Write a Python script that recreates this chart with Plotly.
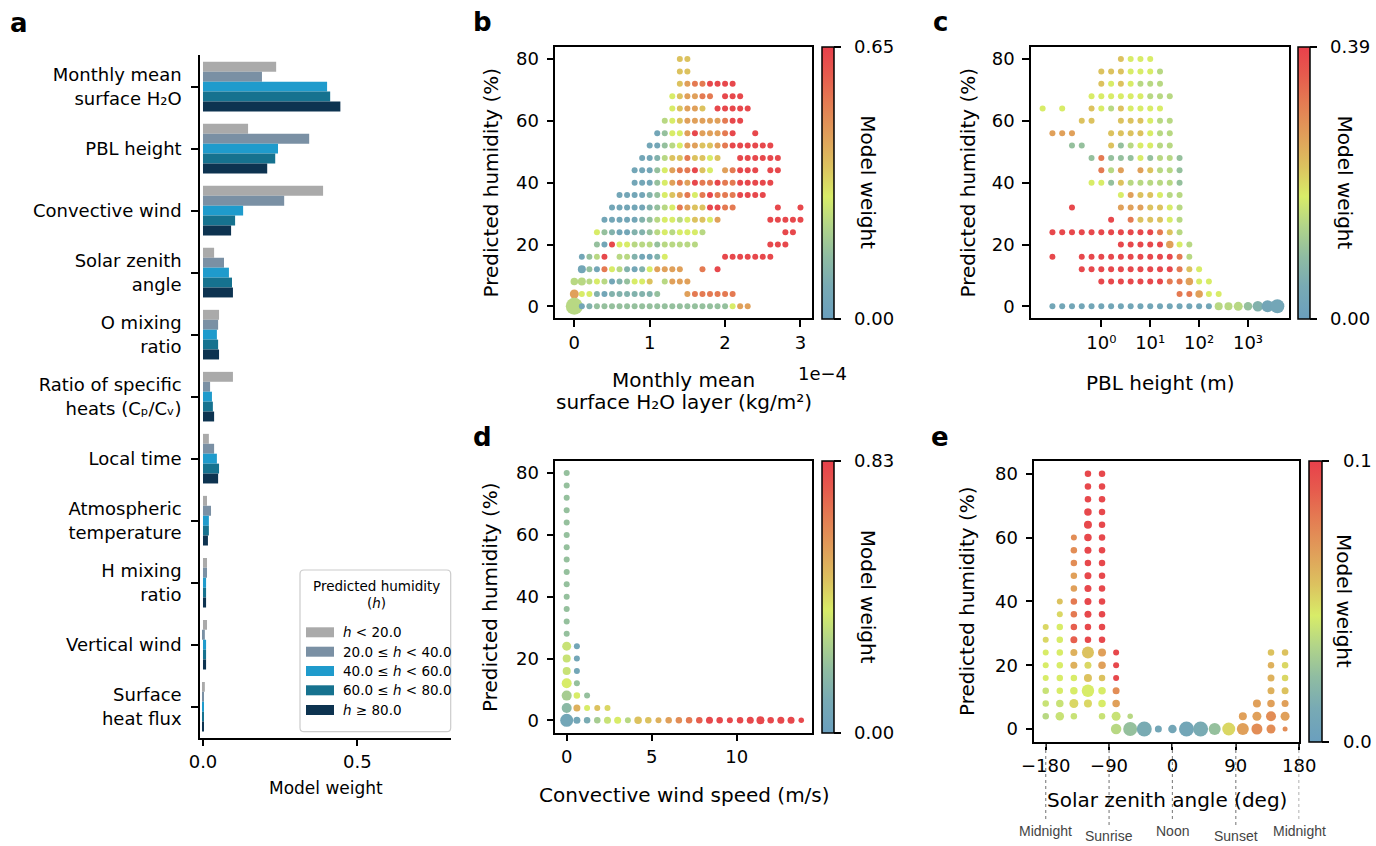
import plotly.graph_objects as go

W, H = 1376, 846
FONT = "DejaVu Sans"

# ---------------- Panel a: model weight per feature and humidity bin ----------------
features = ["Monthly mean<br>surface H₂O", "PBL height", "Convective wind", "Solar zenith<br>angle",
            "O mixing<br>ratio", "Ratio of specific<br>heats (Cₚ/Cᵥ)", "Local time",
            "Atmospheric<br>temperature", "H mixing<br>ratio", "Vertical wind", "Surface<br>heat flux"]
bin_labels = ["<i>h</i> &lt; 20.0", "20.0 ≤ <i>h</i> &lt; 40.0", "40.0 ≤ <i>h</i> &lt; 60.0",
              "60.0 ≤ <i>h</i> &lt; 80.0", "<i>h</i> ≥ 80.0"]
bin_colors = ["#aaaaaa", "#7a90a4", "#1f9bcc", "#16728f", "#0d3350"]
w_lt20 = [0.237, 0.146, 0.389, 0.036, 0.052, 0.097, 0.019, 0.013, 0.013, 0.013, 0.006]
w_20_40 = [0.191, 0.344, 0.263, 0.068, 0.049, 0.023, 0.036, 0.026, 0.013, 0.006, 0.003]
w_40_60 = [0.402, 0.243, 0.130, 0.084, 0.045, 0.029, 0.045, 0.019, 0.010, 0.010, 0.003]
w_60_80 = [0.412, 0.234, 0.104, 0.094, 0.049, 0.032, 0.052, 0.019, 0.010, 0.010, 0.002]
w_ge80 = [0.445, 0.208, 0.091, 0.097, 0.052, 0.036, 0.049, 0.016, 0.010, 0.010, 0.002]
bin_weights = [w_lt20, w_20_40, w_40_60, w_60_80, w_ge80]

# weight level codes ('1' low ... '9' high) -> fraction of colour-bar maximum
LEVEL_FRAC = [0.0, 0.08, 0.17, 0.25, 0.36, 0.45, 0.56, 0.67, 0.80, 0.97]

# ---------------- Panel b: monthly mean surface H2O ----------------
# (humidity %, first bin index, codes); bin index i -> x = i * 0.1e-4 kg/m2 ; '.' = no point
b_x_step = 0.1e-4
b_segments = [
    (80, 14, "66"),
    (76, 14, "66"),
    (72, 14, "67889999"),
    (68, 13, "567788.999"),
    (64, 13, "56776.99999"),
    (60, 12, "45677777899"),
    (56, 11, "13557977789..9"),
    (52, 10, "11345776678999999"),
    (48, 9, "11246686656..999999"),
    (44, 8, "11135788965.78999.99"),
    (40, 8, "1113578798898899999"),
    (36, 6, "11112356785898889999"),
    (32, 5, "11111234587669988.....9..9"),
    (28, 4, "1111123455456657......99999"),
    (24, 3, "532112234545554..........99"),
    (20, 3, "31955444344444.........999"),
    (16, 1, "1349.4421125.......9999999"),
    (12, 1, "13185421257777..8.9"),
    (8, 0, "44454123556.4777"),
    (4, 0, "755212222223...7888888"),
    (0, 0, "412333333333333333333577"),
]
b_sizes = {(0, 0): 17, (4, 0): 9, (8, 0): 7.5, (8, 1): 8, (12, 1): 8, (24, 2): 7}
b_vmax = 0.65

# ---------------- Panel c: PBL height (log bins) ----------------
# bin index i -> PBL height = 10 ** (-1.2 + 0.2 * i)
c_log_start, c_log_step = -1.2, 0.2
c_segments = [
    (80, 8, "6555"),
    (76, 6, "6665554"),
    (72, 6, "6565444"),
    (68, 5, "555555444"),
    (64, 0, "5.5..65465555"),
    (60, 4, "66..666544"),
    (56, 1, "777...6666544"),
    (52, 3, "33..6345544"),
    (48, 5, "3833353443"),
    (44, 6, "847.76443"),
    (40, 5, "5536444443"),
    (36, 8, "5766544"),
    (32, 3, "9....7776654"),
    (28, 7, "9.866654"),
    (24, 1, "99999999999864"),
    (20, 8, "99999754"),
    (16, 1, "9..999999999984"),
    (12, 4, "9999999999865"),
    (8, 6, "999999988755"),
    (4, 14, "88755"),
    (0, 1, "111111111111111114443211"),
]
c_sizes = {(0, 18): 8, (0, 19): 8, (0, 20): 9, (0, 21): 8.5, (0, 22): 10.5, (0, 23): 12, (0, 24): 14,
           (20, 13): 7.5, (8, 15): 7.5, (4, 16): 7.5}
c_vmax = 0.39

# ---------------- Panel d: convective wind speed ----------------
# (wind m/s, humidity %, weight level, marker size)
d_points = [
    (0, 80, 3, 6), (0, 76, 3, 6), (0, 72, 3, 6), (0, 68, 3, 6), (0, 64, 3, 6), (0, 60, 3, 6),
    (0, 56, 3, 6), (0, 52, 3, 6), (0, 48, 3, 6), (0, 44, 3, 6), (0, 40, 3, 6), (0, 36, 3, 6),
    (0, 32, 3, 6), (0, 28, 3, 6), (0, 24, 4.5, 9), (0, 20, 4.5, 8), (0, 16, 4.5, 8),
    (0, 12, 5, 10), (0, 8, 3.5, 10), (0, 4, 2.5, 10), (0, 0, 1, 13),
    (0.6, 24, 1, 6), (0.6, 20, 1, 6), (0.6, 16, 1, 6), (0.6, 12, 3, 6), (0.6, 8, 5, 6.5),
    (0.6, 4, 6.5, 7), (0.6, 0, 1, 7),
    (1.2, 8, 3, 6), (1.2, 4, 5, 6), (1.2, 0, 1.5, 6.5),
    (1.8, 4, 6, 6), (1.8, 0, 3.5, 6.5),
    (2.4, 4, 5.5, 6), (2.4, 0, 4.5, 7),
    (3.0, 0, 5, 7), (3.6, 0, 4, 6), (4.2, 0, 6, 7.5), (4.8, 0, 6, 6.5), (5.4, 0, 6.5, 6),
    (6.0, 0, 7, 6.5), (6.6, 0, 7.5, 6.5), (7.2, 0, 8, 6.5), (7.8, 0, 8.5, 6.5), (8.4, 0, 9, 7),
    (9.0, 0, 9, 6.5), (9.6, 0, 9, 6), (10.2, 0, 9, 6.5), (10.8, 0, 9, 7), (11.4, 0, 9, 8),
    (12.0, 0, 9, 6.5), (12.6, 0, 9, 7), (13.2, 0, 9, 7), (13.8, 0, 9, 5.5),
]
d_vmax = 0.83

# ---------------- Panel e: solar zenith angle ----------------
# (angle deg, humidity %, weight level, marker size)
e_points = [
    (-180, 32, 5.5, 6), (-180, 28, 5.5, 6), (-180, 24, 5, 6), (-180, 20, 5, 6), (-180, 16, 5, 6),
    (-180, 12, 4.5, 6.5), (-180, 8, 4.5, 6.5), (-180, 4, 4, 6.5),
    (-160, 40, 6, 6), (-160, 36, 5.5, 6), (-160, 32, 5, 6.5), (-160, 28, 5, 6.5), (-160, 24, 5, 6.5),
    (-160, 20, 5, 6.5), (-160, 16, 5, 6.5), (-160, 12, 5, 6.5), (-160, 8, 4.5, 7.5), (-160, 4, 4.5, 8.5),
    (-140, 60, 7.5, 6), (-140, 56, 7.5, 6.5), (-140, 52, 7.5, 6.5), (-140, 48, 7, 6.5), (-140, 44, 7, 6.5),
    (-140, 40, 8, 6.5), (-140, 36, 8, 6.5), (-140, 32, 8.5, 6.5), (-140, 28, 8.5, 7), (-140, 24, 6.5, 7),
    (-140, 20, 6.5, 7), (-140, 16, 5, 6.5), (-140, 12, 5, 7.5), (-140, 8, 5.5, 9), (-140, 4, 4.5, 6.5),
    (-120, 80, 9, 6.5), (-120, 76, 9, 6.5), (-120, 72, 9, 6.5), (-120, 68, 9, 7.5), (-120, 64, 9, 8),
    (-120, 60, 9, 7.5), (-120, 56, 9, 7), (-120, 52, 9, 6.5), (-120, 48, 9, 7), (-120, 44, 9, 7),
    (-120, 40, 9, 7), (-120, 36, 9, 7), (-120, 32, 9, 6.5), (-120, 28, 9, 6.5), (-120, 24, 6, 12),
    (-120, 20, 5.5, 7), (-120, 16, 6, 8), (-120, 12, 5, 12.5), (-120, 8, 5.5, 8),
    (-100, 80, 9, 6.5), (-100, 76, 9, 6.5), (-100, 72, 9, 6.5), (-100, 68, 9, 6.5), (-100, 64, 9, 6.5),
    (-100, 60, 9, 6.5), (-100, 56, 9, 6.5), (-100, 52, 9, 6.5), (-100, 48, 9, 6.5), (-100, 44, 9, 6.5),
    (-100, 40, 9, 6.5), (-100, 36, 9, 6.5), (-100, 32, 9, 6.5), (-100, 28, 9, 6.5), (-100, 24, 7, 8),
    (-100, 20, 7, 7.5), (-100, 16, 6, 6.5), (-100, 12, 5, 7.5), (-100, 8, 5, 7.5), (-100, 4, 4.5, 6.5),
    (-80, 24, 9, 6), (-80, 20, 9, 6), (-80, 16, 9, 6), (-80, 12, 7.5, 7), (-80, 8, 7, 7.5),
    (-80, 4, 4.5, 9), (-80, 0, 4, 10.5),
    (-60, 4, 4, 5.5), (-60, 0, 3, 14),
    (-40, 0, 1.5, 15), (-20, 0, 1, 7), (0, 0, 1, 8.5), (20, 0, 1, 15), (40, 0, 1.5, 15),
    (60, 0, 3, 12), (80, 0, 5.5, 13),
    (100, 4, 7, 8), (100, 0, 7, 12),
    (120, 8, 7, 8), (120, 4, 7, 9), (120, 0, 7.5, 11),
    (140, 24, 6, 6.5), (140, 20, 6.5, 6.5), (140, 16, 6.5, 7), (140, 12, 6.5, 7), (140, 8, 7, 7.5),
    (140, 4, 7.5, 10), (140, 0, 7.5, 9),
    (160, 24, 6, 6.5), (160, 20, 5.5, 6.5), (160, 16, 5.5, 6.5), (160, 12, 6, 7), (160, 8, 7, 7),
    (160, 4, 7, 9), (160, 0, 7.5, 5),
]
e_vmax = 0.1
e_day_marks = [(-180, "Midnight", 0), (-90, "Sunrise", 1), (0, "Noon", 0), (90, "Sunset", 1), (180, "Midnight", 0)]

# colour-bar tick labels (bottom, top)
cbar_labels = {"b": ["0.00", "0.65"], "c": ["0.00", "0.39"], "d": ["0.00", "0.83"], "e": ["0.0", "0.1"]}

CSCALE = [[0.0, "#6a9fbe"], [0.12, "#78aab4"], [0.23, "#8fbca2"], [0.34, "#b1d489"],
          [0.45, "#d8ec68"], [0.56, "#dcc25f"], [0.67, "#e0a05a"], [0.80, "#e47a52"],
          [0.90, "#e65a4d"], [1.0, "#e8404b"]]


# ---------------- helpers ----------------
def fx(px):
    return px / W


def fy(py):
    return 1 - py / H


def level_frac(lv):
    lo = int(lv)
    hi = min(lo + 1, 9)
    t = lv - lo
    return LEVEL_FRAC[lo] * (1 - t) + LEVEL_FRAC[hi] * t


def decode(segments, sizes):
    idx, hum, lev, sz = [], [], [], []
    for h, start, codes in segments:
        for k, ch in enumerate(codes):
            if ch == ".":
                continue
            i = start + k
            idx.append(i)
            hum.append(h)
            lev.append(int(ch))
            sz.append(sizes.get((h, i), 6))
    return idx, hum, lev, sz


annotations = []
shapes = []


def ann(text, x, y, size, angle=0, xanchor="center", yanchor="middle", color="black", family=FONT):
    annotations.append(dict(text=text, x=fx(x), y=fy(y), xref="paper", yref="paper", showarrow=False,
                            xanchor=xanchor, yanchor=yanchor, textangle=angle,
                            font=dict(family=family, size=size, color=color)))


def cbar(x0, x1, y0, y1, vmax, labels, label_gap=19):
    # tick labels drawn as annotations for matplotlib-like spacing
    ann(labels[1], x1 + label_gap, y0, 18, xanchor="left")
    ann(labels[0], x1 + label_gap, y1, 18, xanchor="left")
    return dict(x=fx(x0), xanchor="left", y=fy((y0 + y1) / 2), yanchor="middle",
                len=(y1 - y0) / H, lenmode="fraction", thickness=x1 - x0, thicknessmode="pixels",
                xpad=0, ypad=0, outlinewidth=1.5, outlinecolor="black",
                tickmode="array", tickvals=[0, vmax], ticks="outside", showticklabels=False,
                ticklen=7, tickwidth=1.5, tickcolor="black")


def scatter(x, y, levels, sizes, vmax, xa, ya, cb):
    w = [level_frac(l) * vmax for l in levels]
    return go.Scatter(x=x, y=y, mode="markers", xaxis=xa, yaxis=ya, showlegend=False,
                      hoverinfo="skip",
                      marker=dict(color=w, cmin=0, cmax=vmax, colorscale=CSCALE, size=sizes,
                                  line=dict(width=0), opacity=1, colorbar=cb, showscale=True))


def box_axis(x0, x1, rng, **kw):
    d = dict(domain=[x0, x1], range=rng, showline=True, linecolor="black", linewidth=1.5,
             mirror=True, ticks="outside", ticklen=7, tickwidth=1.5, tickcolor="black",
             showgrid=False, zeroline=False, fixedrange=True, automargin=False,
             tickfont=dict(family=FONT, size=18, color="black"))
    d.update(kw)
    return d


fig = go.Figure()

# ---- panel a bars ----
ypos = list(range(len(features)))
for lab, col, w in zip(bin_labels, bin_colors, bin_weights):
    fig.add_trace(go.Bar(x=w, y=ypos, orientation="h", marker=dict(color=col, line=dict(width=0)),
                         xaxis="x", yaxis="y", showlegend=False, hoverinfo="skip", name=lab))

# ---- panel b ----
bi, bh, bl, bs = decode(b_segments, b_sizes)
fig.add_trace(scatter([i * b_x_step for i in bi], bh, bl, bs, b_vmax, "x2", "y2",
                      cbar(821.7, 833.3, 46.7, 318.3, b_vmax, cbar_labels["b"])))
# ---- panel c ----
ci, ch, cl, cs = decode(c_segments, c_sizes)
fig.add_trace(scatter([10 ** (c_log_start + c_log_step * i) for i in ci], ch, cl, cs, c_vmax, "x3", "y3",
                      cbar(1298.3, 1310, 46.7, 318.3, c_vmax, cbar_labels["c"], label_gap=18)))
# ---- panel d ----
fig.add_trace(scatter([p[0] for p in d_points], [p[1] for p in d_points], [p[2] for p in d_points],
                      [p[3] for p in d_points], d_vmax, "x4", "y4",
                      cbar(821.7, 833.3, 461, 732.7, d_vmax, cbar_labels["d"])))
# ---- panel e ----
fig.add_trace(scatter([p[0] for p in e_points], [p[1] for p in e_points], [p[2] for p in e_points],
                      [p[3] for p in e_points], e_vmax, "x5", "y5",
                      cbar(1309, 1321.7, 461, 741.7, e_vmax, cbar_labels["e"])))

hum_ticks = dict(tickmode="array", tickvals=[0, 20, 40, 60, 80], ticktext=["0", "20", "40", "60", "80"],
                 ticklabelstandoff=4)

fig.update_layout(
    template="none",
    width=W, height=H, autosize=False, margin=dict(l=0, r=0, t=0, b=0, pad=0, autoexpand=False),
    paper_bgcolor="white", plot_bgcolor="white",
    barmode="group", bargap=0.2, bargroupgap=0, hovermode=False,
    font=dict(family=FONT, color="black"),
    xaxis=dict(domain=[fx(200), fx(450.7)], range=[-0.0097, 0.8024], anchor="y", showline=True,
               linecolor="black", linewidth=1.5, mirror=False, ticks="outside", ticklen=7, tickwidth=1.5,
               tickcolor="black", showgrid=False, zeroline=False, fixedrange=True, automargin=False,
               tickmode="array", tickvals=[0, 0.5], ticktext=["0.0", "0.5"],
               tickfont=dict(family=FONT, size=18, color="black")),
    yaxis=dict(domain=[fy(737.7), fy(55)], range=[10.5, -0.51], anchor="x", showline=True,
               linecolor="black", linewidth=1.5, mirror=False, ticks="outside", ticklen=7, tickwidth=1.5,
               tickcolor="black", showgrid=False, zeroline=False, fixedrange=True, automargin=False,
               tickmode="array", tickvals=ypos, ticktext=features, ticklabelstandoff=6,
               tickfont=dict(family=FONT, size=18, color="black")),
    xaxis2=box_axis(fx(555.3), fx(812.3), [-0.252e-4, 3.157e-4], anchor="y2", tickmode="array",
                    tickvals=[0, 1e-4, 2e-4, 3e-4], ticktext=["0", "1", "2", "3"]),
    yaxis2=box_axis(fy(318.3), fy(46.7), [-3.88, 84.0], anchor="x2", **hum_ticks),
    xaxis3=box_axis(fx(1031), fx(1289), [-1.438, 3.838], anchor="y3", type="log", tickmode="array",
                    tickvals=[1, 10, 100, 1000], ticktext=["10⁰", "10¹", "10²", "10³"]),
    yaxis3=box_axis(fy(318.3), fy(46.7), [-3.88, 84.0], anchor="x3", **hum_ticks),
    xaxis4=box_axis(fx(555.3), fx(812.3), [-0.67, 14.45], anchor="y4", tickmode="array",
                    tickvals=[0, 5, 10], ticktext=["0", "5", "10"]),
    yaxis4=box_axis(fy(732.7), fy(461), [-4.0, 83.9], anchor="x4", **hum_ticks),
    xaxis5=box_axis(fx(1034.3), fx(1299.3), [-196.2, 180.2], anchor="y5", tickmode="array",
                    tickvals=[-180, -90, 0, 90, 180], ticktext=["−180", "−90", "0", "90", "180"]),
    yaxis5=box_axis(fy(741.7), fy(461), [-3.98, 84.0], anchor="x5", **hum_ticks),
)

# panel letters
for letter, x, y in [("a", 19, 23), ("b", 482, 22), ("c", 940, 22), ("d", 482, 437), ("e", 940, 437)]:
    ann("<b>%s</b>" % letter, x, y, 26)

# axis titles
ann("Model weight", 325.5, 788.3, 17)
ann("Predicted humidity (%)", 490, 182.5, 20, angle=-90)
ann("Monthly mean", 683.5, 380, 20)
ann("surface H₂O layer (kg/m²)", 683.5, 401.7, 20)
ann("1e−4", 849.3, 373.3, 18, xanchor="right")
ann("Predicted humidity (%)", 967, 182.5, 20, angle=-90)
ann("PBL height (m)", 1160, 383.3, 20)
ann("Predicted humidity (%)", 490, 597, 20, angle=-90)
ann("Convective wind speed (m/s)", 684, 795, 20)
ann("Predicted humidity (%)", 967, 601, 20, angle=-90)
ann("Solar zenith angle (deg)", 1166.5, 800, 20)
# colour-bar titles
for x, y in [(868.3, 182.5), (1345, 182.5), (868.3, 597), (1344, 601)]:
    ann("Model weight", x, y, 20, angle=90)

# day-time marks below panel e
for ang, label, row in e_day_marks:
    ybot = 822 if row == 0 else 827
    ytxt = 830.5 if row == 0 else 836
    shapes.append(dict(type="line", xref="x5", yref="paper", x0=ang, x1=ang, y0=fy(744), y1=fy(ybot),
                       line=dict(color="#888888", width=1.2, dash="dot")))
    annotations.append(dict(text=label, x=ang, y=fy(ytxt), xref="x5", yref="paper", showarrow=False,
                            xanchor="center", yanchor="middle",
                            font=dict(family="Liberation Sans", size=14, color="#444444")))

# manual legend for panel a
lx0, lx1, ly0, ly1, r = 300, 450.7, 570, 731.7, 4
path = ("M {a},{b} L {c},{b} Q {d},{b} {d},{e} L {d},{f} Q {d},{g} {c},{g} L {a},{g} "
        "Q {h},{g} {h},{f} L {h},{e} Q {h},{b} {a},{b} Z").format(
    a=fx(lx0 + r), b=fy(ly0), c=fx(lx1 - r), d=fx(lx1), e=fy(ly0 + r), f=fy(ly1 - r), g=fy(ly1), h=fx(lx0))
shapes.append(dict(type="path", xref="paper", yref="paper", path=path, fillcolor="rgba(255,255,255,0.9)",
                   line=dict(color="#cccccc", width=1.2), layer="above"))
ann("Predicted humidity", 376, 585.5, 13.5)
ann("(<i>h</i>)", 376, 603, 13.5)
for k, (lab, col) in enumerate(zip(bin_labels, bin_colors)):
    yc = [632.3, 651.7, 671, 690.3, 710][k]
    shapes.append(dict(type="rect", xref="paper", yref="paper", x0=fx(306), x1=fx(334),
                       y0=fy(yc + 5), y1=fy(yc - 5), fillcolor=col, line=dict(width=0), layer="above"))
    ann(lab, 340.7, yc, 13.5, xanchor="left")

fig.update_layout(annotations=annotations, shapes=shapes)

fig.write_html("out.html", config={"displayModeBar": False, "responsive": False},
               post_script="document.body.style.margin='0';document.body.style.overflow='hidden';")
